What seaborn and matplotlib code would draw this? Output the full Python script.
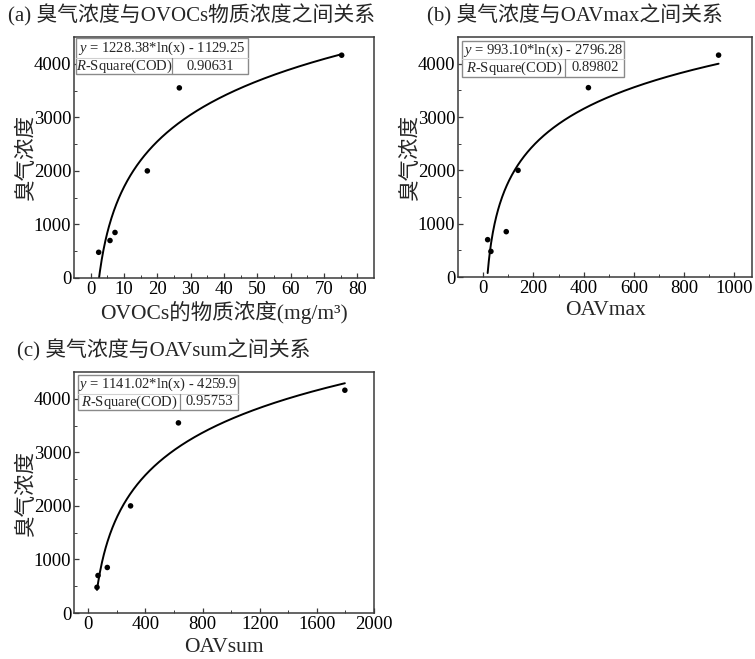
import numpy as np
import pandas as pd
import matplotlib
matplotlib.use("Agg")
import matplotlib.pyplot as plt
from matplotlib.patches import Rectangle
from matplotlib.lines import Line2D
import seaborn as sns

# Odour concentration measured for six samples
odour = [480, 700, 850, 2000, 3550, 4160]
# OVOCs mass concentration (mg/m3)
ovocs_conc = [2.4, 5.8, 7.3, 17.0, 26.6, 75.3]
# Maximum odour activity value
oav_max = [31, 18, 92, 139, 419, 937]
# Summed odour activity value
oav_sum = [61, 68, 133, 296, 631, 1796]

# Logarithmic fits y = a*ln(x) + b and their coefficients of determination
fit_a = [1228.38, 993.10, 1141.02]
fit_b = [-1129.25, -2796.28, -4259.9]
fit_eq = ["1228.38*ln($x$) - 1129.25", "993.10*ln($x$) - 2796.28", "1141.02*ln($x$) - 4259.9"]
fit_r2 = ["0.90631", "0.89802", "0.95753"]

titles = ["(a) 臭气浓度与OVOCs物质浓度之间关系",
          "(b) 臭气浓度与OAVmax之间关系",
          "(c) 臭气浓度与OAVsum之间关系"]
xlabels = ["OVOCs的物质浓度(mg/m³)", "OAVmax", "OAVsum"]
ylabel = "臭气浓度"

sns.set_theme(style="ticks")
plt.rcParams["font.family"] = ["Liberation Serif", "Noto Sans CJK SC"]
plt.rcParams["mathtext.fontset"] = "custom"
plt.rcParams["mathtext.rm"] = "Liberation Serif"
plt.rcParams["mathtext.it"] = "Liberation Serif:italic"
plt.rcParams["mathtext.default"] = "regular"

W, H = 755, 659
fig = plt.figure(figsize=(W / 100, H / 100), dpi=100)


def px_axes(left, top, right, bottom):
    return fig.add_axes([left / W, 1 - bottom / H, (right - left) / W, (bottom - top) / H])


axes = [px_axes(74, 37, 374, 278), px_axes(458, 37, 752, 277), px_axes(74, 372, 374, 613)]
xdata = [ovocs_conc, oav_max, oav_sum]
xlims = [(-5, 85), (-100, 1070), (-100, 2000)]
xticks = [np.arange(0, 81, 10), np.arange(0, 1001, 200), np.arange(0, 2001, 400)]
xlabelpads = [2, 3, 4]
# table box (left, bottom, right, top, row split, column split) in axes fraction
boxes = [(0.007, 0.845, 0.58, 0.996, 0.912, 0.326),
         (0.015, 0.835, 0.566, 0.983, 0.907, 0.365),
         (0.012, 0.842, 0.548, 0.988, 0.91, 0.353)]

edge = "#3a3a3a"
for i, ax in enumerate(axes):
    df = pd.DataFrame({"x": xdata[i], "y": odour})
    xs = np.linspace(min(xdata[i]), max(xdata[i]), 400)
    fit = pd.DataFrame({"x": xs, "y": fit_a[i] * np.log(xs) + fit_b[i]})
    sns.lineplot(data=fit, x="x", y="y", ax=ax, color="black", linewidth=1.4, sort=False)
    sns.scatterplot(data=df, x="x", y="y", ax=ax, color="black", s=16, edgecolor="none", zorder=5)

    ax.set_xlim(*xlims[i])
    ax.set_ylim(0, 4500)
    ax.set_xticks(xticks[i])
    ax.set_yticks(np.arange(0, 4001, 1000))
    ax.set_xticks([t + (xticks[i][1] - xticks[i][0]) / 2 for t in xticks[i][:-1]], minor=True)
    ax.set_yticks(np.arange(500, 4500, 1000), minor=True)
    ax.tick_params(axis="both", which="major", direction="in", length=3.5, width=0.9,
                   colors=edge, labelcolor="black", labelsize=13.5, pad=2)
    ax.tick_params(axis="both", which="minor", direction="in", length=2, width=0.7, colors=edge)
    for sp in ax.spines.values():
        sp.set_color(edge)
        sp.set_linewidth(1.1)
    ax.set_xlabel(xlabels[i], fontsize=15.5, labelpad=xlabelpads[i])
    ax.set_ylabel(ylabel, fontsize=15.5, labelpad=-2)

    # fit result table
    l, b, r, t, m, c = boxes[i]
    gray = "#8a8a8a"
    ax.add_patch(Rectangle((l, b), r - l, t - b, transform=ax.transAxes, fill=True,
                           facecolor="white", edgecolor=gray, linewidth=1.0, zorder=6))
    ax.add_line(Line2D([l, r], [m, m], transform=ax.transAxes, color="#d0d0d0", lw=0.8, zorder=7))
    ax.add_line(Line2D([c, c], [b, m], transform=ax.transAxes, color=gray, lw=0.9, zorder=7))
    ax.text((l + r) / 2, (m + t) / 2, "$\\mathit{y}$ = " + fit_eq[i], transform=ax.transAxes,
            ha="center", va="center", fontsize=10.5, zorder=8)
    ax.text((l + c) / 2, (b + m) / 2, "$\\mathit{R}$-Square(COD)", transform=ax.transAxes,
            ha="center", va="center", fontsize=10.5, zorder=8)
    ax.text((c + r) / 2, (b + m) / 2, fit_r2[i], transform=ax.transAxes,
            ha="center", va="center", fontsize=10.5, zorder=8)

title_pos = [(8, 15), (427, 15), (17, 350)]
for (tx, ty), s in zip(title_pos, titles):
    fig.text(tx / W, 1 - ty / H, s, ha="left", va="center", fontsize=15)

fig.savefig("out.png", dpi=100)
